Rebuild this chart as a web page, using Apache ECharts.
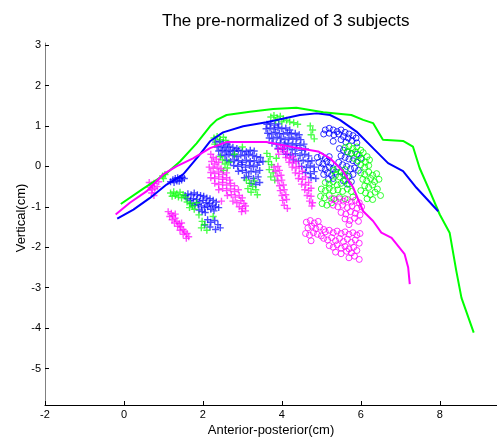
<!DOCTYPE html>
<html>
<head>
<meta charset="utf-8">
<script src="https://cdn.jsdelivr.net/npm/echarts@6/dist/echarts.min.js"></script>
<style>
  html, body { margin: 0; padding: 0; background: #fff; }
  #app { width: 497px; height: 438px; }
</style>
</head>
<body>
<div id="app"></div>
<script>
// tick labels
var xTicks = [-2, 0, 2, 4, 6, 8];
var yTicks = [-5, -4, -3, -2, -1, 0, 1, 2, 3];

// contour lines, one per subject
var greenLine = [[-0.08,-0.93],[0.49,-0.55],[1.08,-0.17],[1.42,0.12],[1.84,0.57],[2.18,0.99],[2.35,1.15],[2.6,1.27],
    [3.19,1.35],[3.78,1.42],[4.37,1.45],[5.05,1.34],[5.76,1.27],[6.06,1.15],[6.31,1.07],[6.56,0.66],[7.07,0.63],
    [7.32,0.49],[7.49,-0.04],[7.75,-0.62],[8.0,-1.19],[8.25,-1.64],[8.42,-2.59],[8.55,-3.25],[8.86,-4.11]];
var blueLine = [[-0.17,-1.29],[0.24,-1.07],[0.66,-0.78],[1.08,-0.45],[1.5,-0.2],[1.92,0.29],[2.18,0.62],[2.51,0.84],
    [3.02,0.99],[3.61,1.09],[4.46,1.27],[4.88,1.31],[5.22,1.27],[5.47,1.15],[5.89,0.86],[6.31,0.45],[6.69,0.08],
    [7.07,-0.12],[7.41,-0.53],[7.96,-1.11]];
var magentaLine = [[-0.21,-1.19],[0.15,-0.9],[0.57,-0.62],[0.99,-0.2],[1.33,0.0],[1.75,0.2],[2.18,0.45],[2.6,0.6],
    [3.61,0.6],[4.29,0.47],[4.92,0.37],[5.22,0.2],[5.55,-0.12],[5.81,-0.53],[6.06,-1.11],[6.31,-1.35],[6.52,-1.64],
    [6.78,-1.77],[7.11,-2.17],[7.2,-2.5],[7.24,-2.91]];

// '+' samples
var bluePlus = [
    [1.18,-0.38],[1.24,-0.33],[1.3,-0.3],[1.36,-0.28],[1.42,-0.3],[1.48,-0.27],[1.53,-0.3],[1.27,-0.4],[1.34,-0.36],[1.4,-0.37],[1.46,-0.34],
    [1.55,-0.72],[1.62,-0.68],[1.7,-0.7],[1.78,-0.66],[1.86,-0.7],[1.94,-0.72],[2.02,-0.74],[2.1,-0.78],[2.18,-0.8],[2.26,-0.84],[2.34,-0.88],
    [1.6,-0.8],[1.68,-0.84],[1.76,-0.8],[1.84,-0.82],[1.92,-0.86],[2.0,-0.84],[2.08,-0.9],[2.16,-0.92],[2.24,-0.96],[2.32,-1.0],[2.4,-1.02],
    [1.72,-0.92],[1.8,-0.96],[1.88,-0.94],[1.96,-0.98],[2.04,-1.02],[2.12,-1.0],[2.2,-1.06],[2.28,-1.1],[1.9,-1.08],[1.98,-1.12],[2.06,-1.14],
    [2.12,-1.32],[2.2,-1.38],[2.3,-1.34],[2.38,-1.44],[2.18,-1.5],[2.32,-1.56],[2.44,-1.52],[2.05,-1.45],
    [2.32,0.6],[2.42,0.62],[2.52,0.58],[2.62,0.55],
    [2.36,0.48],[2.46,0.5],[2.56,0.46],[2.66,0.5],[2.76,0.47],[2.86,0.44],
    [2.4,0.38],[2.5,0.4],[2.6,0.36],[2.7,0.4],[2.8,0.37],[2.9,0.4],[3.0,0.38],[3.1,0.36],[3.2,0.4],[3.3,0.38],
    [2.46,0.28],[2.56,0.26],[2.66,0.3],[2.76,0.27],[2.86,0.24],[2.96,0.28],[3.06,0.26],[3.16,0.3],[3.26,0.27],[3.36,0.24],[3.46,0.22],
    [2.6,0.15],[2.7,0.12],[2.8,0.16],[2.9,0.14],[3.0,0.1],[3.1,0.15],[3.2,0.12],[3.3,0.14],[3.42,0.1],[3.52,0.12],
    [2.78,0.02],[2.88,0.0],[2.98,0.04],[3.08,-0.02],[3.18,0.02],[3.28,-0.01],[3.38,0.03],
    [2.9,-0.12],[3.0,-0.1],[3.1,-0.15],[3.22,-0.12],[3.34,-0.14],[3.44,-0.1],
    [3.05,-0.28],[3.16,-0.25],[3.28,-0.3],[3.4,-0.26],[3.22,-0.42],[3.34,-0.45],[3.44,-0.4],
    [3.62,1.04],[3.72,1.06],[3.82,1.02],[3.92,1.05],
    [3.6,0.93],[3.7,0.95],[3.8,0.92],[3.9,0.96],[4.0,0.93],[4.1,0.95],[4.2,0.9],
    [3.64,0.82],[3.74,0.8],[3.84,0.84],[3.94,0.81],[4.04,0.8],[4.14,0.83],[4.24,0.8],[4.34,0.82],[4.44,0.78],
    [3.68,0.7],[3.78,0.68],[3.88,0.72],[3.98,0.69],[4.08,0.66],[4.18,0.7],[4.28,0.67],[4.38,0.7],[4.48,0.66],
    [3.75,0.57],[3.86,0.55],[3.96,0.58],[4.06,0.54],[4.16,0.57],[4.26,0.53],[4.36,0.56],[4.46,0.52],[4.56,0.55],
    [3.9,0.44],[4.02,0.42],[4.14,0.45],[4.26,0.41],[4.38,0.44],[4.5,0.4],[4.6,0.43],
    [4.1,0.3],[4.22,0.28],[4.34,0.31],[4.46,0.27],[4.58,0.3],[4.68,0.26],
    [4.3,0.16],[4.42,0.13],[4.54,0.15],[4.66,0.12],[4.76,0.14],
    [4.5,0.0],[4.62,-0.03],[4.72,0.01],[4.82,-0.02],[4.6,-0.15],[4.72,-0.18],[4.82,-0.13],[4.74,-0.28],[4.86,-0.3]
];
var greenPlus = [
    [0.98,-0.24],[1.04,-0.2],[1.0,-0.3],
    [1.18,-0.66],[1.26,-0.63],[1.34,-0.68],[1.42,-0.64],[1.5,-0.7],[1.22,-0.74],[1.3,-0.72],[1.38,-0.76],[1.46,-0.78],[1.56,-0.76],
    [1.6,-0.88],[1.68,-0.92],[1.74,-0.98],[1.66,-1.02],[1.78,-1.06],[1.84,-0.9],[1.98,-1.36],[2.04,-1.44],[2.1,-1.58],[1.96,-1.52],[2.26,-1.24],[1.9,-1.2],
    [2.28,0.7],[2.36,0.74],[2.44,0.66],[2.52,0.72],[2.58,0.64],[2.3,0.55],[2.44,0.24],[2.5,0.16],[2.56,0.06],[2.62,-0.04],[2.66,0.1],[2.52,-0.1],
    [2.8,0.3],[3.0,0.48],[3.1,-0.34],[3.18,-0.42],[3.26,-0.5],[3.34,-0.58],[3.22,-0.64],[3.38,-0.7],[3.14,-0.55],[3.3,-0.36],
    [3.72,1.22],[3.8,1.26],[3.88,1.2],[3.96,1.24],[4.04,1.18],[4.12,1.14],[4.2,1.1],[4.3,1.08],[4.4,1.04],[3.84,1.14],[4.0,1.1],
    [3.62,0.32],[3.7,0.24],[3.66,0.12],[3.74,0.04],[3.68,-0.08],[3.78,-0.16],[3.72,-0.26],[3.82,-0.34],[3.86,0.2],
    [4.72,1.0],[4.78,0.9],[4.74,0.78],[4.82,0.68]
];
var magentaPlus = [
    [0.64,-0.4],[0.7,-0.46],[0.76,-0.42],[0.66,-0.52],[0.72,-0.58],[0.78,-0.54],[0.7,-0.66],[0.76,-0.72],[0.84,-0.5],[0.88,-0.38],
    [1.12,-1.12],[1.2,-1.16],[1.16,-1.24],[1.24,-1.22],[1.3,-1.28],[1.22,-1.32],[1.34,-1.36],[1.28,-1.4],[1.4,-1.42],[1.36,-1.48],
    [1.44,-1.5],[1.5,-1.56],[1.42,-1.58],[1.54,-1.62],[1.6,-1.66],[1.5,-1.68],[1.64,-1.74],[1.58,-1.78],[1.3,-1.18],[1.46,-1.4],
    [2.2,0.3],[2.26,0.22],[2.34,0.18],[2.22,0.12],[2.3,0.06],[2.4,0.1],
    [2.16,-0.02],[2.26,-0.05],[2.36,-0.02],[2.46,-0.06],[2.2,-0.15],[2.3,-0.18],[2.4,-0.14],[2.5,-0.2],[2.6,-0.16],
    [2.2,-0.28],[2.3,-0.3],[2.4,-0.26],[2.5,-0.32],[2.6,-0.28],[2.68,-0.34],
    [2.3,-0.42],[2.4,-0.45],[2.5,-0.4],[2.6,-0.46],[2.7,-0.42],[2.8,-0.48],
    [2.4,-0.58],[2.5,-0.55],[2.6,-0.6],[2.7,-0.56],[2.8,-0.62],[2.9,-0.58],
    [2.62,-0.72],[2.72,-0.7],[2.82,-0.76],[2.92,-0.72],[3.0,-0.78],
    [2.76,-0.86],[2.86,-0.9],[2.96,-0.85],[3.04,-0.92],[2.92,-1.0],[3.0,-1.04],[3.08,-0.98],[2.98,-1.12],[3.08,-1.1],[2.47,-0.86],
    [3.8,-0.02],[3.9,0.0],[3.84,-0.12],[3.94,-0.1],[3.88,-0.24],[3.98,-0.22],[3.9,-0.36],[4.0,-0.34],[3.94,-0.48],
    [4.04,-0.46],[3.96,-0.6],[4.06,-0.58],[4.0,-0.72],[4.1,-0.7],[4.02,-0.84],[4.12,-0.82],[4.06,-0.96],[4.14,-1.04],
    [4.04,0.36],[4.14,0.32],[4.1,0.22],[4.2,0.2],[4.28,0.24],[4.18,0.1],[4.28,0.08],[4.36,0.12],[4.26,-0.02],[4.36,-0.04],
    [4.44,0.0],[4.34,-0.16],[4.44,-0.18],[4.52,-0.12],[4.42,-0.3],[4.52,-0.32],[4.6,-0.26],[4.5,-0.44],[4.6,-0.46],[4.68,-0.4],
    [4.58,-0.58],[4.68,-0.6],[4.74,-0.54],[4.64,-0.72],[4.74,-0.74],[4.7,-0.86],[4.78,-0.9],[4.76,-0.98],
    [3.9,0.42],[3.98,0.46],[4.06,0.44],[3.92,0.3]
];

// 'o' samples
var blueCircle = [
    [5.1,0.9],[5.2,0.94],[5.3,0.9],[5.4,0.86],[5.5,0.9],[5.6,0.84],[5.7,0.8],[5.8,0.76],[5.88,0.7],[5.2,0.82],
    [5.32,0.78],[5.44,0.8],[5.56,0.74],[5.68,0.7],[5.78,0.64],[5.5,0.66],[5.62,0.6],[5.06,0.8],[5.9,0.58],[5.3,0.62],
    [4.9,0.22],[5.0,0.26],[5.1,0.2],[5.2,0.24],[4.94,0.1],[5.04,0.06],[5.14,0.12],[5.24,0.08],[5.0,-0.04],[5.1,-0.08],
    [5.2,-0.02],[5.3,-0.06],[5.06,-0.2],[5.16,-0.16],[5.26,-0.22],[5.36,-0.14],[5.18,-0.32],[5.3,-0.3],
    [5.46,0.44],[5.56,0.4],[5.66,0.36],[5.76,0.32],[5.5,0.26],[5.6,0.22],[5.7,0.18],[5.8,0.14],[5.9,0.1],[5.44,0.1],
    [5.54,0.04],[5.64,0.0],[5.74,-0.06],[5.84,-0.04],[5.94,-0.1],[5.5,-0.14],[5.6,-0.2],[5.7,-0.24],[5.8,-0.2],
    [5.56,-0.36],[5.66,-0.44],[5.76,-0.38],[5.9,0.3],[6.0,0.2]
];
var greenCircle = [
    [5.6,0.46],[5.7,0.5],[5.8,0.44],[5.9,0.48],[6.0,0.4],[5.66,0.36],[5.76,0.32],[5.86,0.36],[5.96,0.28],[6.06,0.34],
    [6.16,0.24],[5.82,0.2],[5.92,0.14],[6.02,0.18],[6.12,0.1],[6.22,0.16],[6.0,0.04],[6.1,-0.02],[6.2,0.02],
    [6.0,-0.16],[6.1,-0.2],[6.2,-0.14],[6.3,-0.22],[6.4,-0.18],[6.05,-0.32],[6.15,-0.36],[6.25,-0.3],[6.35,-0.38],[6.46,-0.32],
    [6.1,-0.48],[6.2,-0.52],[6.3,-0.46],[6.42,-0.56],[6.0,-0.6],[6.12,-0.66],[6.24,-0.7],[6.36,-0.64],[6.5,-0.72],[6.3,-0.82],[6.16,-0.8],
    [5.3,-0.1],[5.4,-0.06],[5.5,-0.12],[5.6,-0.08],[5.36,-0.22],[5.46,-0.26],[5.56,-0.2],[5.66,-0.24],
    [5.1,-0.4],[5.2,-0.44],[5.3,-0.38],[5.4,-0.46],[5.5,-0.42],[5.6,-0.36],[5.7,-0.44],
    [5.0,-0.56],[5.1,-0.6],[5.2,-0.54],[5.3,-0.6],[5.42,-0.58],[5.54,-0.62],[5.66,-0.56],[5.76,-0.62],
    [4.98,-0.74],[5.08,-0.78],[5.2,-0.72],[5.32,-0.8],[5.46,-0.76],[5.6,-0.8],[5.8,-0.76],[5.02,-0.92],[5.14,-0.96],[5.26,-0.9]
];
var magentaCircle = [
    [5.26,-0.8],[5.36,-0.84],[5.46,-0.8],[5.56,-0.86],[5.66,-0.82],[5.76,-0.88],[5.86,-0.84],[5.96,-0.9],
    [5.3,-0.96],[5.42,-1.0],[5.54,-0.96],[5.66,-1.02],[5.78,-0.98],[5.9,-1.04],[6.02,-1.0],
    [5.5,-1.14],[5.62,-1.18],[5.74,-1.12],[5.86,-1.16],[5.98,-1.2],[5.6,-1.3],[5.72,-1.34],[5.84,-1.28],[5.94,-1.36],[5.7,-1.44],
    [4.62,-1.38],[4.72,-1.34],[4.82,-1.4],[4.92,-1.36],[4.66,-1.52],[4.76,-1.48],[4.86,-1.54],[4.96,-1.5],[5.06,-1.56],
    [4.6,-1.66],[4.7,-1.7],[4.8,-1.64],[4.9,-1.68],[5.0,-1.72],[4.74,-1.84],
    [5.1,-1.62],[5.2,-1.58],[5.3,-1.64],[5.4,-1.6],[5.5,-1.66],[5.6,-1.62],[5.7,-1.68],[5.8,-1.64],[5.9,-1.7],[5.98,-1.66],
    [5.06,-1.78],[5.16,-1.82],[5.26,-1.76],[5.36,-1.84],[5.46,-1.78],[5.56,-1.86],[5.66,-1.8],[5.76,-1.88],[5.86,-1.82],[5.96,-1.9],
    [5.2,-1.96],[5.3,-2.0],[5.4,-1.94],[5.5,-2.02],[5.6,-1.98],[5.7,-2.04],[5.82,-2.0],
    [5.36,-2.12],[5.5,-2.16],[5.64,-2.1],[5.76,-2.14],[5.9,-2.08],[5.7,-2.26],[5.84,-2.22],[5.96,-2.3]
];

var FONT = '"Liberation Sans", Arial, sans-serif';
var PLUS = 'path://M2,0h1v2h2v1h-2v2h-1v-2h-2v-1h2z';

function plusSeries(data, color) {
    return {
        type: 'scatter',
        data: data,
        symbol: PLUS,
        symbolSize: 7,
        itemStyle: { color: color, opacity: 0.7 },
        z: 2
    };
}

function circleSeries(data, color) {
    return {
        type: 'scatter',
        data: data,
        symbol: 'circle',
        symbolSize: 6,
        itemStyle: { color: 'transparent', borderColor: color, borderWidth: 1, opacity: 0.8 },
        z: 3
    };
}

function lineSeries(data, color) {
    return {
        type: 'line',
        data: data,
        showSymbol: false,
        symbol: 'none',
        lineStyle: { color: color, width: 2 },
        z: 4
    };
}

var option = {
    animation: false,
    backgroundColor: '#fff',
    title: {
        text: 'The pre-normalized of 3 subjects',
        left: 157,
        top: 8,
        textStyle: { fontFamily: FONT, fontSize: 17, fontWeight: 'normal', color: '#000' }
    },
    grid: { left: 45, right: 0, top: 43, bottom: 33, outerBoundsMode: 'none', containLabel: false },
    xAxis: {
        type: 'value',
        min: -2,
        max: 9.45,
        name: 'Anterior-posterior(cm)',
        nameLocation: 'middle',
        nameGap: 19,
        nameMoveOverlap: false,
        nameTextStyle: { fontFamily: FONT, fontSize: 13, color: '#000' },
        splitLine: { show: false },
        axisLine: { onZero: false, lineStyle: { color: '#000', width: 1 } },
        axisTick: { inside: true, length: 4, customValues: xTicks, lineStyle: { color: '#000' } },
        axisLabel: { customValues: xTicks, margin: 4, fontFamily: FONT, fontSize: 11, color: '#000' }
    },
    yAxis: {
        type: 'value',
        min: -5.9,
        max: 3.05,
        name: 'Vertical(cm)',
        nameLocation: 'middle',
        nameGap: 17,
        nameMoveOverlap: false,
        nameTextStyle: { fontFamily: FONT, fontSize: 13, color: '#000', padding: [0, 0, 0, 12] },
        splitLine: { show: false },
        axisLine: { onZero: false, lineStyle: { color: '#808080', width: 1 } },
        axisTick: { inside: true, length: 4, customValues: yTicks, lineStyle: { color: '#000' } },
        axisLabel: { customValues: yTicks, margin: 4, fontFamily: FONT, fontSize: 11, color: '#000' }
    },
    series: [
        plusSeries(bluePlus, '#0000ff'),
        plusSeries(greenPlus, '#00ff00'),
        plusSeries(magentaPlus, '#ff00ff'),
        circleSeries(blueCircle, '#0000ff'),
        circleSeries(greenCircle, '#00ff00'),
        circleSeries(magentaCircle, '#ff00ff'),
        lineSeries(greenLine, '#00ff00'),
        lineSeries(blueLine, '#0000ff'),
        lineSeries(magentaLine, '#ff00ff')
    ]
};

var myChart = echarts.init(document.getElementById('app'));
myChart.setOption(option);
</script>
</body>
</html>
